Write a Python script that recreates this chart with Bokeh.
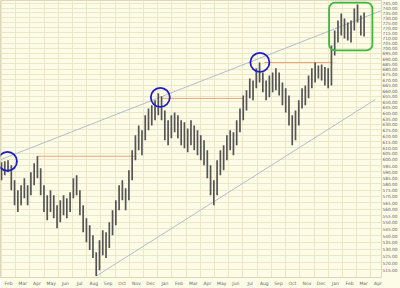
from bokeh.plotting import figure
from bokeh.models import FixedTicker, PrintfTickFormatter, BoxAnnotation, Range1d
from bokeh.embed import file_html
from bokeh.resources import INLINE

# month labels along the bottom (one per month, first = Feb)
month_labels = ["Feb", "Mar", "Apr", "May", "Jun", "Jul", "Aug", "Sep", "Oct",
                "Nov", "Dec", "Jan", "Feb", "Mar", "Apr", "May", "Jun", "Jul",
                "Aug", "Sep", "Oct", "Nov", "Dec", "Jan", "Feb", "Mar", "Apr"]

# weekly price ranges
highs = [597.7, 598.5, 599.3, 595.2, 583.0, 575.0, 579.0, 584.6, 579.0, 589.5,
         596.8, 602.7, 592.7, 579.0, 571.0, 575.0, 571.0, 563.2, 567.1, 571.0,
         568.7, 573.4, 584.6, 587.0, 575.0, 563.2, 553.1, 547.8, 540.2, 527.7,
         536.5, 544.0, 542.5, 550.1, 559.3, 567.1, 579.0, 583.0, 576.6, 591.1,
         607.7, 620.4, 629.0, 624.7, 637.8, 644.0, 646.7, 651.2, 657.6, 654.8,
         642.2, 633.4, 637.8, 640.4, 637.8, 633.4, 631.7, 626.4, 633.4, 629.0,
         624.7, 620.4, 616.1, 607.7, 595.2, 583.0, 599.3, 607.7, 611.9, 620.4,
         624.7, 623.0, 633.4, 644.0, 655.7, 660.3, 671.3, 669.4, 680.7, 686.3,
         676.9, 669.4, 674.1, 676.9, 680.7, 676.9, 667.6, 662.1, 655.7, 637.8,
         642.2, 651.2, 662.1, 664.8, 674.1, 680.7, 686.3, 683.5, 684.4, 682.0,
         680.7, 702.6, 717.4, 727.4, 734.5, 729.4, 725.4, 727.4, 739.6, 743.7,
         732.4, 735.4]
lows = [583.0, 587.0, 589.5, 575.0, 563.2, 557.8, 563.2, 568.7, 563.2, 571.0,
        579.0, 584.6, 571.0, 557.8, 551.6, 557.8, 553.1, 545.5, 550.1, 555.4,
        553.1, 557.8, 568.7, 571.0, 555.4, 542.5, 535.0, 529.2, 523.4, 510.5,
        514.7, 525.5, 523.4, 530.7, 540.2, 547.8, 559.3, 567.1, 559.3, 567.1,
        583.0, 599.3, 607.7, 603.5, 616.1, 624.7, 629.0, 633.4, 637.8, 633.4,
        616.1, 611.9, 617.8, 623.0, 617.8, 611.9, 609.4, 606.0, 611.9, 607.7,
        603.5, 599.3, 595.2, 584.6, 571.0, 563.2, 571.0, 587.0, 591.1, 599.3,
        607.7, 603.5, 611.9, 623.0, 633.4, 642.2, 653.0, 651.2, 662.1, 667.6,
        658.5, 651.2, 653.9, 658.5, 660.3, 655.7, 646.7, 640.4, 629.0, 611.9,
        616.1, 629.0, 644.0, 646.7, 653.0, 662.1, 667.6, 671.3, 669.4, 664.8,
        662.1, 664.8, 693.0, 705.5, 712.4, 709.5, 707.5, 705.5, 717.4, 725.4,
        712.4, 711.4]

# price axis labels
price_ticks = list(range(515, 750, 5))

# annotations (x in months from the first Feb, y in price)
circle_x = [0.42, 11.18, 18.19]
circle_y = [598.5, 653.9, 686.3]
res_x0 = [2.5, 11.3, 18.5]
res_x1 = [9.5, 17.0, 23.3]
res_level = [602.7, 653.0, 686.3]
upper_x = [-0.07, 26.74]
upper_y = [599.8, 737.4]
lower_x = [6.67, 26.32]
lower_y = [510.5, 652.0]
box = dict(left=23.06, right=26.11, top=745.7, bottom=697.8)

week_x = [i * 7 / 30.44 for i in range(len(highs))]

BG = "#FDFCE7"
GRID = "#ECE7C9"

p = figure(width=400, height=288, output_backend="svg", toolbar_location=None,
           y_axis_type="log", y_axis_location="right",
           x_range=Range1d(-0.07, 26.75), y_range=Range1d(509.5, 747.8),
           min_border=0, min_border_left=0, min_border_right=0,
           min_border_top=0, min_border_bottom=0)
p.background_fill_color = BG
p.border_fill_color = BG
p.outline_line_color = "#DCD7B9"

# axes
p.yaxis.ticker = FixedTicker(ticks=price_ticks)
p.yaxis.formatter = PrintfTickFormatter(format="%.2f")
p.yaxis.major_label_text_font_size = "4.3px"
p.yaxis.major_label_text_color = "#666666"
p.yaxis.major_label_text_font = "DejaVu Sans"
p.yaxis.major_tick_out = 0
p.yaxis.major_tick_in = 0
p.yaxis.minor_tick_out = 0
p.yaxis.minor_tick_in = 0
p.yaxis.major_label_standoff = 1
p.yaxis.axis_line_color = None

mid = [m + 0.5 for m in range(len(month_labels))]
p.xaxis.ticker = FixedTicker(ticks=mid)
p.xaxis.major_label_overrides = {m: lab for m, lab in zip(mid, month_labels)}
p.xaxis.major_label_text_font_size = "4.5px"
p.xaxis.major_label_text_color = "#666666"
p.xaxis.major_label_text_font = "DejaVu Sans"
p.xaxis.major_tick_out = 0
p.xaxis.major_tick_in = 0
p.xaxis.major_label_standoff = 3
p.xaxis.axis_line_color = "#DCD7B9"

p.xgrid.ticker = FixedTicker(ticks=list(range(len(month_labels) + 1)))
p.ygrid.ticker = FixedTicker(ticks=price_ticks)
p.xgrid.grid_line_color = GRID
p.ygrid.grid_line_color = GRID
p.xgrid.grid_line_width = 1
p.ygrid.grid_line_width = 1

# trend lines
p.line(upper_x, upper_y, line_color="#B4BCCB", line_width=1)
p.line(lower_x, lower_y, line_color="#B4BCCB", line_width=1)

# resistance levels
p.segment(res_x0, res_level, res_x1, res_level, line_color="#E6A57A", line_width=1)

# price bars
p.segment(week_x, lows, week_x, highs, line_color="#555555", line_width=1.7)

# circles
p.scatter(circle_x, circle_y, marker="circle", size=19, fill_color=None,
          line_color="#1E1EC8", line_width=1.8)

# green box
p.add_layout(BoxAnnotation(left=box["left"], right=box["right"], top=box["top"],
                           bottom=box["bottom"], fill_alpha=0, line_color="#3DB83D",
                           line_width=1.8, border_radius=6, line_alpha=1))

open("out.html", "w").write(file_html(p, INLINE))
